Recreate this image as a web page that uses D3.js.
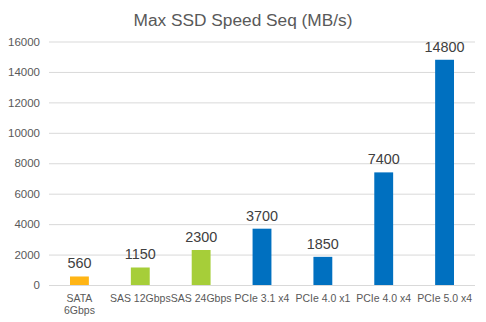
<!DOCTYPE html>
<html>
<head>
<meta charset="utf-8">
<script src="https://cdn.jsdelivr.net/npm/d3@7"></script>
<style>
  html, body { margin: 0; padding: 0; background: #fff; }
  svg { display: block; font-family: "Liberation Sans", Arial, sans-serif; }
</style>
</head>
<body>
<svg id="chart" width="486" height="322"></svg>
<script>
// Interfaces and their maximum sequential throughput (MB/s)
const categories = ["SATA\n6Gbps", "SAS 12Gbps", "SAS 24Gbps", "PCIe 3.1 x4", "PCIe 4.0 x1", "PCIe 4.0 x4", "PCIe 5.0 x4"];
const speeds = [560, 1150, 2300, 3700, 1850, 7400, 14800];
const barColors = ["#FFB515", "#A6CE39", "#A6CE39", "#0070C0", "#0070C0", "#0070C0", "#0070C0"];
const yTicks = [0, 2000, 4000, 6000, 8000, 10000, 12000, 14000, 16000];
const title = "Max SSD Speed Seq (MB/s)";

const svg = d3.select("#chart");
const margin = { left: 49, right: 11, top: 41.5, bottom: 37 };
const W = 486, H = 322;

const x = d3.scaleBand()
  .domain(categories)
  .range([margin.left, W - margin.right])
  .paddingInner(0.69)
  .paddingOuter(0.345);

const y = d3.scaleLinear()
  .domain([0, 16000])
  .range([H - margin.bottom, margin.top]);

// Title
svg.append("text")
  .attr("x", 243).attr("y", 26)
  .attr("text-anchor", "middle")
  .attr("font-size", 17.3)
  .attr("fill", "#595959")
  .text(title);

// Gridlines + y axis labels
const yAxis = d3.axisLeft(y)
  .tickValues(yTicks)
  .tickSize(-(W - margin.left - margin.right))
  .tickPadding(9)
  .tickFormat(d3.format("d"));

const gy = svg.append("g")
  .attr("transform", `translate(${margin.left},0)`)
  .call(yAxis);
gy.select(".domain").remove();
gy.selectAll(".tick line").attr("stroke", "#D9D9D9").attr("stroke-width", 1);
gy.selectAll(".tick text")
  .attr("fill", "#595959")
  .attr("font-size", 11.5)
  .attr("font-family", "Liberation Sans, Arial, sans-serif");

// Bars
svg.append("g").selectAll("rect")
  .data(categories)
  .join("rect")
  .attr("x", d => x(d))
  .attr("width", x.bandwidth())
  .attr("y", (d, i) => y(speeds[i]))
  .attr("height", (d, i) => y(0) - y(speeds[i]))
  .attr("fill", (d, i) => barColors[i]);

// Value labels
svg.append("g").selectAll("text")
  .data(categories)
  .join("text")
  .attr("x", d => x(d) + x.bandwidth() / 2)
  .attr("y", (d, i) => y(speeds[i]) - 8)
  .attr("text-anchor", "middle")
  .attr("font-size", 14.4)
  .attr("fill", "#404040")
  .text((d, i) => speeds[i]);

// Category labels (may wrap onto two lines)
const gx = svg.append("g");
categories.forEach(c => {
  const t = gx.append("text")
    .attr("x", x(c) + x.bandwidth() / 2)
    .attr("y", 302)
    .attr("text-anchor", "middle")
    .attr("font-size", 10.5)
    .attr("fill", "#595959");
  c.split("\n").forEach((line, j) => {
    t.append("tspan")
      .attr("x", x(c) + x.bandwidth() / 2)
      .attr("dy", j === 0 ? 0 : 12)
      .text(line);
  });
});
</script>
</body>
</html>
